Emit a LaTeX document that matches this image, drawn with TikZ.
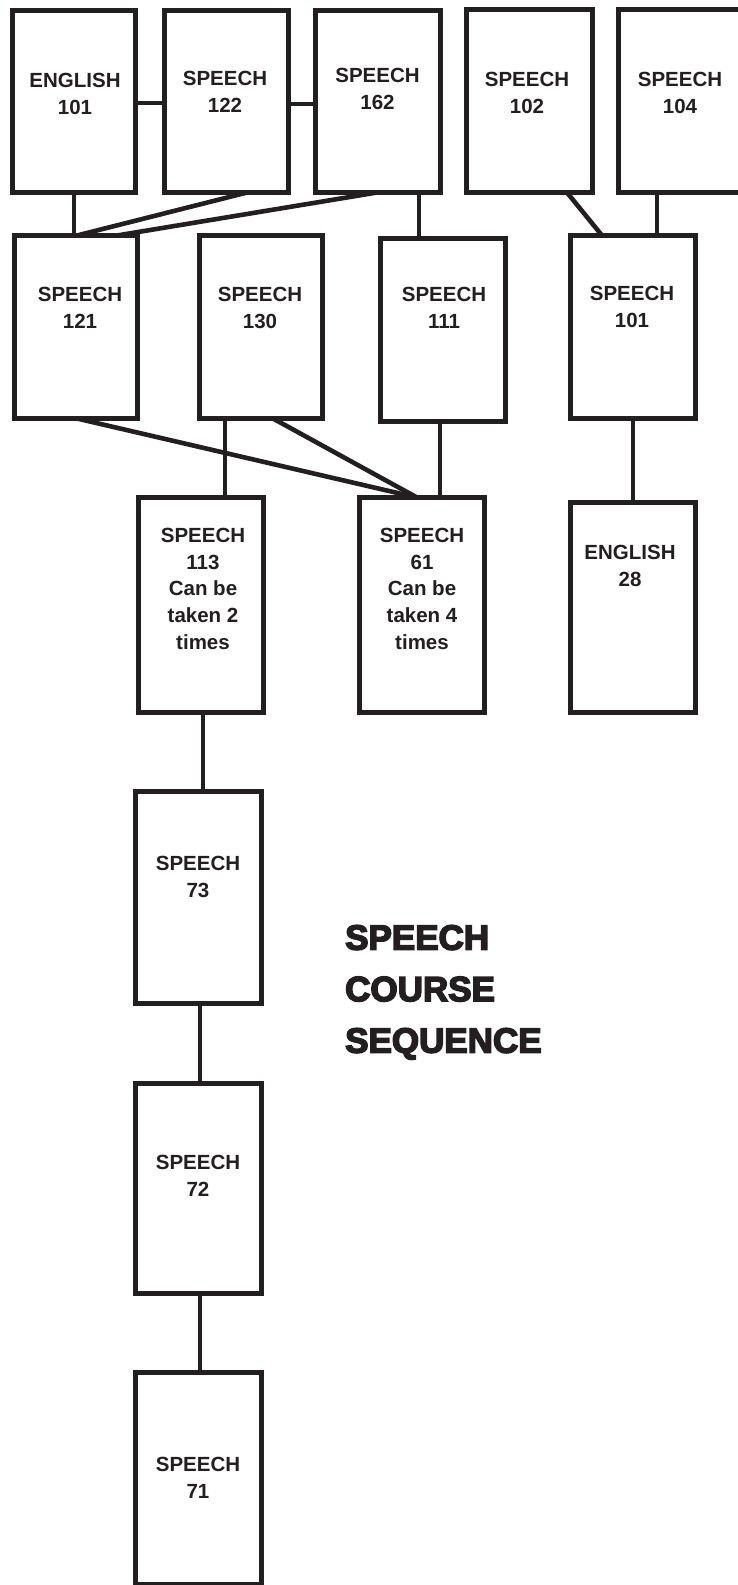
\documentclass[tikz,border=0pt]{standalone}
\usepackage{fontspec}
\setmainfont{Liberation Sans}
\newfontfamily\titlefont[BoldFeatures={FakeBold=4.5}]{Liberation Sans}
\usetikzlibrary{calc}
\pgfdeclarelayer{bgfill}
\pgfdeclarelayer{background}
\pgfsetlayers{bgfill,background,main}
\definecolor{ink}{RGB}{35,31,32}
\tikzset{
  course/.style={draw=ink, fill=white, line width=5pt, line join=miter,
    inner sep=0pt, outer sep=0pt, rectangle},
  ctext/.style={text=ink, inner sep=0pt, outer sep=0pt, anchor=north, align=center,
    font=\fontsize{20.5}{26.7}\selectfont\bfseries},
  link/.style={draw=ink, line width=4.6pt},
  title/.style={text=ink, inner sep=0pt, anchor=north west, align=left,
    font=\titlefont\fontsize{35}{51.5}\selectfont\bfseries}
}
\begin{document}
\begin{tikzpicture}[x=1pt,y=-1pt]
\useasboundingbox (0,0) rectangle (738,1585);
\begin{pgfonlayer}{bgfill}
\fill[white] (0,0) rectangle (738,1585);
\end{pgfonlayer}

% row 1
\node[course, minimum width=123pt, minimum height=182pt] (e101) at (74,101.5) {};
\node[course, minimum width=124pt, minimum height=182pt] (s122) at (226.5,101.5) {};
\node[course, minimum width=125pt, minimum height=182pt] (s162) at (378,101.5) {};
\node[course, minimum width=126pt, minimum height=183pt] (s102) at (529.5,101) {};
\node[course, minimum width=123pt, minimum height=183pt] (s104) at (680,101) {};
% row 2
\node[course, minimum width=123pt, minimum height=183pt] (s121) at (76,327) {};
\node[course, minimum width=123pt, minimum height=183pt] (s130) at (261,327) {};
\node[course, minimum width=125pt, minimum height=183pt] (s111) at (443,330) {};
\node[course, minimum width=125pt, minimum height=183pt] (s101) at (633,327) {};
% row 3
\node[course, minimum width=125pt, minimum height=215pt] (s113) at (201,605) {};
\node[course, minimum width=125pt, minimum height=215pt] (s61) at (422,605) {};
\node[course, minimum width=125pt, minimum height=210pt] (e28) at (633,607.5) {};
% column
\node[course, minimum width=126pt, minimum height=212pt] (s73) at (198.5,897.5) {};
\node[course, minimum width=126pt, minimum height=210pt] (s72) at (198.5,1188.5) {};
\node[course, minimum width=126pt, minimum height=212pt] (s71) at (198.5,1478.5) {};

% texts
\node[ctext] (e101t) at (75,73) {ENGLISH\\101};
\node[ctext] (s122t) at (225,71) {SPEECH\\122};
\node[ctext] (s162t) at (377.5,68) {SPEECH\\162};
\node[ctext] (s102t) at (527,72) {SPEECH\\102};
\node[ctext] (s104t) at (680,72) {SPEECH\\104};
\node[ctext] (s121t) at (80,287) {SPEECH\\121};
\node[ctext] (s130t) at (260,287) {SPEECH\\130};
\node[ctext] (s111t) at (444,287) {SPEECH\\111};
\node[ctext] (s101t) at (632,286) {SPEECH\\101};
\node[ctext] (s113t) at (203,528) {SPEECH\\113\\Can be\\taken 2\\times};
\node[ctext] (s61t) at (422,528) {SPEECH\\61\\Can be\\taken 4\\times};
\node[ctext] (e28t) at (630,545) {ENGLISH\\28};
\node[ctext] (s73t) at (198,856) {SPEECH\\73};
\node[ctext] (s72t) at (198,1155) {SPEECH\\72};
\node[ctext] (s71t) at (198,1457) {SPEECH\\71};

\node[title] (ttl) at (345,925) {SPEECH\\COURSE\\SEQUENCE};

% connectors
\begin{pgfonlayer}{background}
\draw[link] ([yshift=-1.5pt]e101.east) -- ([yshift=-1.5pt]s122.west);
\draw[link] ([yshift=-2.5pt]s122.east) -- ([yshift=-2.5pt]s162.west);
\draw[link] (e101.south) -- (e101.south |- s121.north);
\draw[link] ([xshift=82.5pt]s122.south west) -- ([xshift=62.5pt]s121.north west);
\draw[link] ([xshift=61.5pt]s162.south west) -- ([xshift=102.5pt]s121.north west);
\coordinate (c162) at ([xshift=103.5pt]s162.south west);
\draw[link] (c162) -- (c162 |- s111.north);
\draw[link] ([xshift=100.5pt]s102.south west) -- ([xshift=31.5pt]s101.north west);
\coordinate (c104) at ([xshift=38.5pt]s104.south west);
\draw[link] (c104) -- (c104 |- s101.north);
\draw[link] ([xshift=62.5pt]s121.south west) -- ([xshift=57.5pt]s61.north west);
\coordinate (c130) at ([xshift=25.5pt]s130.south west);
\draw[link] (c130) -- (c130 |- s113.north);
\draw[link] ([xshift=73.5pt]s130.south west) -- ([xshift=57.5pt]s61.north west);
\coordinate (c111) at ([xshift=59.5pt]s111.south west);
\draw[link] (c111) -- (c111 |- s61.north);
\draw[link] (s101.south) -- (s101.south |- e28.north);
\coordinate (c113) at ([xshift=64.5pt]s113.south west);
\draw[link] (c113) -- (c113 |- s73.north);
\coordinate (c73) at ([xshift=64.5pt]s73.south west);
\draw[link] (c73) -- (c73 |- s72.north);
\coordinate (c72) at ([xshift=64.5pt]s72.south west);
\draw[link] (c72) -- (c72 |- s71.north);
\end{pgfonlayer}
\end{tikzpicture}
\end{document}
